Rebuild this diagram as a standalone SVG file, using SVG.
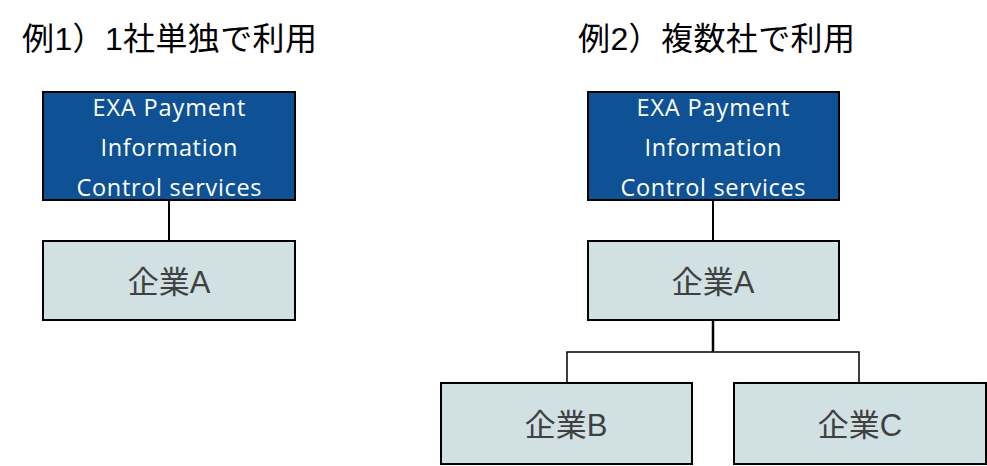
<svg xmlns="http://www.w3.org/2000/svg" width="987" height="466" viewBox="0 0 987 466">
<style>
.title{font-family:"Liberation Sans","Noto Sans CJK JP",sans-serif;font-size:32px;fill:#000}
.blue{fill:#0E5295;stroke:#000;stroke-width:2}
.light{fill:#D0E0E3;stroke:#000;stroke-width:2}
.wt{font-family:"Open Sans","Noto Sans",sans-serif;font-size:23.5px;fill:#fff;text-anchor:middle}
.gt{font-family:"Liberation Sans","Noto Sans CJK JP",sans-serif;font-size:31px;fill:#404040;text-anchor:middle}
.conn{stroke:#000;fill:none}
</style>
<rect width="987" height="466" fill="#fff"/>
<text class="title" x="22" y="50" textLength="295">例1）1社単独で利用</text>
<text class="title" x="578" y="50" textLength="277">例2）複数社で利用</text>
<g id="connectors">
<line class="conn" x1="169" y1="200" x2="169" y2="241" stroke-width="2"/>
<line class="conn" x1="713" y1="200" x2="713" y2="241" stroke-width="2"/>
<line class="conn" x1="713" y1="320" x2="713" y2="352" stroke-width="2.5"/>
<polyline class="conn" points="567,383 567,352 859,352 859,383" stroke-width="1.5"/>
</g>
<g id="svc1">
<rect class="blue" x="43" y="92" width="252" height="108"/>
<text class="wt" x="169" y="116" textLength="153">EXA Payment</text>
<text class="wt" x="169" y="156" textLength="137">Information</text>
<text class="wt" x="169" y="196" textLength="185">Control services</text>
</g>
<g id="a1">
<rect class="light" x="43" y="241" width="252" height="79"/>
<text class="gt" x="169" y="293">企業A</text>
</g>
<g id="svc2">
<rect class="blue" x="588" y="92" width="251" height="108"/>
<text class="wt" x="713" y="116" textLength="153">EXA Payment</text>
<text class="wt" x="713" y="156" textLength="137">Information</text>
<text class="wt" x="713" y="196" textLength="185">Control services</text>
</g>
<g id="a2">
<rect class="light" x="588" y="241" width="251" height="79"/>
<text class="gt" x="713" y="293">企業A</text>
</g>
<g id="b">
<rect class="light" x="441" y="383" width="251" height="81"/>
<text class="gt" x="566" y="436">企業B</text>
</g>
<g id="c">
<rect class="light" x="734" y="383" width="252" height="81"/>
<text class="gt" x="860" y="436">企業C</text>
</g>
</svg>
